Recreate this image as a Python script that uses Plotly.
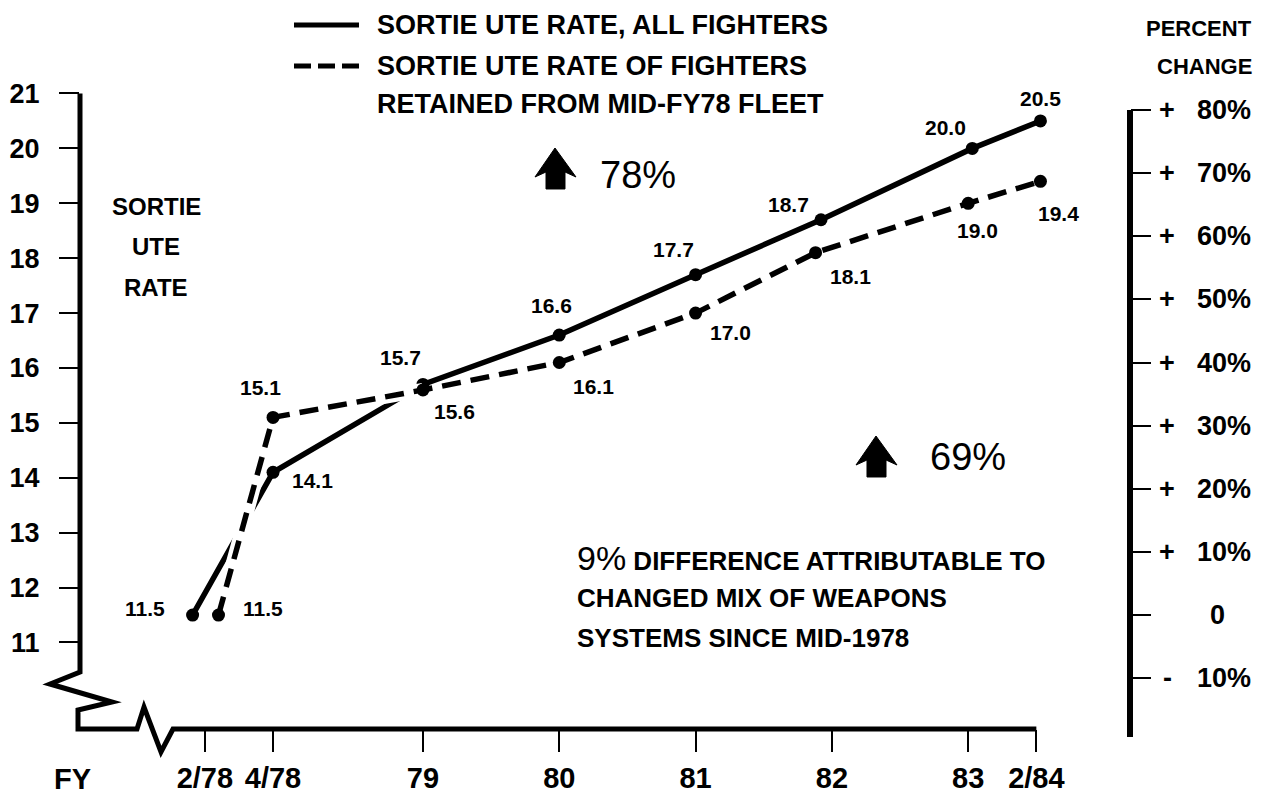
import plotly.graph_objects as go

# ---- data -------------------------------------------------------------
# fiscal-year positions of the x-axis ticks and their labels
tick_pos = [77.4, 77.9, 79.0, 80.0, 81.0, 82.0, 83.0, 83.5]
tick_labels = ["2/78", "4/78", "79", "80", "81", "82", "83", "2/84"]

# sortie ute rate, all fighters
all_x = [77.31, 77.9, 79.0, 80.0, 81.0, 81.92, 83.03, 83.53]
all_rate = [11.5, 14.1, 15.7, 16.6, 17.7, 18.7, 20.0, 20.5]

# sortie ute rate of fighters retained from the mid-FY78 fleet
ret_x = [77.5, 77.9, 79.0, 80.0, 81.0, 81.88, 83.0, 83.53]
ret_rate = [11.5, 15.1, 15.6, 16.1, 17.0, 18.1, 19.0, 19.4]

rate_ticks = [11, 12, 13, 14, 15, 16, 17, 18, 19, 20, 21]
pct_ticks = [-10, 0, 10, 20, 30, 40, 50, 60, 70, 80]

# ---- layout geometry (pixels) -----------------------------------------
W, H = 1268, 796
PL, PR, PT, PB = 80, 1130, 93, 729          # plot area edges
X_RANGE = [76.484, 84.187]
Y_RANGE = [9.424, 21.009]
BASE = all_rate[0]                           # percent change is measured from here
PCT_RANGE = [(v / BASE - 1) * 100 for v in Y_RANGE]

FONT = "Liberation Sans, Arial, Helvetica, sans-serif"
INK = "black"


def paper(px, py):
    """pixel position -> paper coordinates"""
    return (px - PL) / (PR - PL), (PB - py) / (PB - PT)


def ypaper(v):
    return (v - Y_RANGE[0]) / (Y_RANGE[1] - Y_RANGE[0])


def path(points, close=False):
    parts = []
    for i, (px, py) in enumerate(points):
        x, y = paper(px, py)
        parts.append(("M" if i == 0 else "L") + f"{x:.5f},{y:.5f}")
    return " ".join(parts) + (" Z" if close else "")


fig = go.Figure()

# all fighters: solid line
fig.add_trace(go.Scatter(
    x=all_x, y=all_rate, mode="lines+markers",
    line=dict(color=INK, width=5.5),
    marker=dict(color=INK, size=13),
    hoverinfo="skip"))

# white under-stroke so the solid line breaks where the dashed one crosses it
fig.add_trace(go.Scatter(
    x=ret_x[:3], y=ret_rate[:3], mode="lines",
    line=dict(color="white", width=14),
    hoverinfo="skip"))

# retained fleet: dashed line
fig.add_trace(go.Scatter(
    x=ret_x, y=ret_rate, mode="lines+markers",
    line=dict(color=INK, width=5.5, dash="19px,10px"),
    marker=dict(color=INK, size=13),
    hoverinfo="skip"))

# invisible trace to bring up the right-hand percent axis
fig.add_trace(go.Scatter(x=[X_RANGE[0]], y=[0], yaxis="y2", mode="markers",
                         marker=dict(opacity=0), hoverinfo="skip"))

annotations = []


def text(px, py, s, size, xanchor="center", weight="bold"):
    x, y = paper(px, py)
    annotations.append(dict(
        x=x, y=y, xref="paper", yref="paper", text=s, showarrow=False,
        xanchor=xanchor, yanchor="middle",
        font=dict(family=FONT, size=size, color=INK, weight=weight)))


# value labels next to each point (pixel offsets from the point)
all_lbl_off = [(-48, -7), (39, 8), (-22, -27), (-8, -30), (-22, -25),
               (-32, -15), (-27, -21), (0, -22)]
ret_lbl_off = [(45, -7), (-13, -30), (32, 22), (34, 24), (35, 19),
               (35, 24), (9, 27), (18, 32)]
for xs, ys, offs in ((all_x, all_rate, all_lbl_off), (ret_x, ret_rate, ret_lbl_off)):
    for xv, yv, (dx, dy) in zip(xs, ys, offs):
        annotations.append(dict(
            x=xv, y=yv, xref="x", yref="y", text=f"{yv:.1f}", showarrow=False,
            xshift=dx, yshift=-dy, xanchor="center", yanchor="middle",
            font=dict(family=FONT, size=21, color=INK, weight="bold")))

# right-hand percent labels
for p in pct_ticks:
    if p == 0:
        annotations.append(dict(
            x=paper(1217, 0)[0], y=p, xref="paper", yref="y2", text="0",
            showarrow=False, xanchor="center", yanchor="middle",
            font=dict(family=FONT, size=27, color=INK, weight="bold")))
        continue
    annotations.append(dict(
        x=paper(1167, 0)[0], y=p, xref="paper", yref="y2",
        text="+" if p > 0 else "-", showarrow=False,
        xanchor="center", yanchor="middle",
        font=dict(family=FONT, size=27, color=INK, weight="bold")))
    annotations.append(dict(
        x=paper(1253, 0)[0], y=p, xref="paper", yref="y2",
        text=f"{abs(p)}%", showarrow=False,
        xanchor="right", yanchor="middle",
        font=dict(family=FONT, size=27, color=INK, weight="bold")))

# axis titles
text(156, 207, "SORTIE", 24)
text(156, 247, "UTE", 24)
text(156, 287, "RATE", 24)
text(1254, 28, "PERCENT", 22, xanchor="right")
text(1254, 67, "CHANGE", 22, xanchor="right")
text(72, 779, "FY", 29)

# legend
text(375, 25, "SORTIE UTE RATE, ALL FIGHTERS", 27, xanchor="left")
text(375, 66, "SORTIE UTE RATE OF FIGHTERS", 27, xanchor="left")
text(375, 104, "RETAINED FROM MID-FY78 FLEET", 27, xanchor="left")

# overall gains
gain_all = round((all_rate[-1] / all_rate[0] - 1) * 100)
gain_ret = round((ret_rate[-1] / ret_rate[0] - 1) * 100)
text(598, 175, f"{gain_all}%", 38, xanchor="left", weight="normal")
text(928, 457, f"{gain_ret}%", 38, xanchor="left", weight="normal")

text(575, 558, f"<span style='font-size:34px;font-weight:normal'>{gain_all - gain_ret}%</span> "
     "DIFFERENCE ATTRIBUTABLE TO", 26, xanchor="left")
text(575, 598, "CHANGED MIX OF WEAPONS", 26, xanchor="left")
text(575, 638, "SYSTEMS SINCE MID-1978", 26, xanchor="left")

shapes = []
# left axis with its break, then the broken x axis
x_end = PL + (tick_pos[-1] - X_RANGE[0]) / (X_RANGE[1] - X_RANGE[0]) * (PR - PL)
y_top = PB - ypaper(rate_ticks[-1]) * (PB - PT)
shapes.append(dict(type="path", xref="paper", yref="paper",
                   path=path([(80, y_top), (80, 672), (50, 684), (112, 702),
                              (78, 710), (78, 729), (137, 729), (144, 707),
                              (161, 752), (173, 729), (x_end, 729)]),
                   line=dict(color=INK, width=5)))
# right axis
p80 = PB - ypaper(BASE * 1.8) * (PB - PT)
shapes.append(dict(type="path", xref="paper", yref="paper",
                   path=path([(PR, p80), (PR, 737)]),
                   line=dict(color=INK, width=6)))
# legend samples
shapes.append(dict(type="path", xref="paper", yref="paper",
                   path=path([(294, 25), (359, 25)]),
                   line=dict(color=INK, width=5)))
shapes.append(dict(type="path", xref="paper", yref="paper",
                   path=path([(294, 66), (359, 66)]),
                   line=dict(color=INK, width=5, dash="17px,7px")))
# up arrows
for tx, ty in ((555, 148), (876, 436)):
    shapes.append(dict(type="path", xref="paper", yref="paper",
                       path=path([(tx, ty), (tx + 21, ty + 29), (tx + 10, ty + 24),
                                  (tx + 10, ty + 41), (tx - 9, ty + 41),
                                  (tx - 9, ty + 24), (tx - 20, ty + 29)], close=True),
                       fillcolor=INK, line=dict(color=INK, width=1)))

fig.update_layout(
    width=W, height=H,
    margin=dict(l=PL, r=W - PR, t=PT, b=H - PB, pad=0, autoexpand=False),
    paper_bgcolor="white", plot_bgcolor="white",
    showlegend=False,
    xaxis=dict(range=X_RANGE, tickvals=tick_pos, ticktext=tick_labels,
               ticks="outside", ticklen=22, tickwidth=2, tickcolor=INK,
               tickfont=dict(family=FONT, size=29, color=INK, weight="bold"),
               ticklabelstandoff=1, automargin=False,
               showgrid=False, zeroline=False, showline=False, fixedrange=True),
    yaxis=dict(range=Y_RANGE, tickvals=rate_ticks, ticktext=[str(v) for v in rate_ticks],
               ticks="outside", ticklen=20, tickwidth=2, tickcolor=INK,
               tickfont=dict(family=FONT, size=27, color=INK, weight="bold"),
               ticklabelstandoff=14, automargin=False,
               showgrid=False, zeroline=False, showline=False, fixedrange=True),
    yaxis2=dict(range=PCT_RANGE, overlaying="y", side="right", tickvals=pct_ticks,
                ticks="outside", ticklen=20, tickwidth=2, tickcolor=INK,
                showticklabels=False, showgrid=False, zeroline=False,
                showline=False, fixedrange=True, automargin=False),
    annotations=annotations,
    shapes=shapes,
)

fig.write_html("out.html")
